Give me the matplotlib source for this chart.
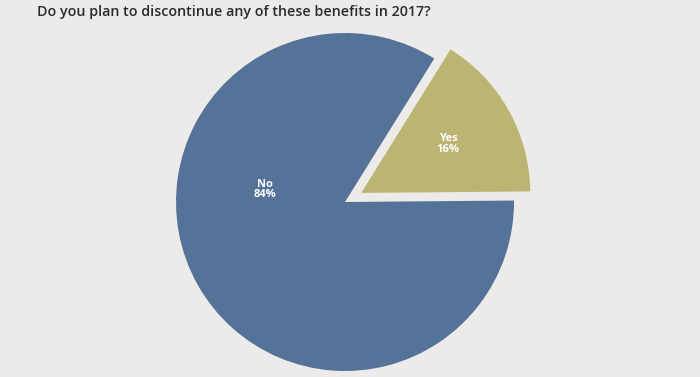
import matplotlib
matplotlib.use('Agg')
import matplotlib.pyplot as plt
import numpy as np

labels = ['Yes', 'No']
values = [16, 84]
colors = ['#bcb473', '#557398']
explode = [0.11, 0.0]

bg = '#edebe9'
fig = plt.figure(figsize=(7.0, 3.77), dpi=100, facecolor=bg)
ax = fig.add_axes([0, 0, 1, 1])
ax.set_facecolor(bg)

# pie radius 1 == 169 px, centre at (345, 175) px from bottom left
R = 169.0
wedges, _ = ax.pie(values, colors=colors, explode=explode, startangle=0.5,
                   counterclock=True, radius=1.0,
                   wedgeprops=dict(linewidth=0))
ax.set_xlim(-345 / R, 355 / R)
ax.set_ylim(-175 / R, 202 / R)
ax.set_aspect('equal')
ax.axis('off')

# slice labels
total = sum(values)
ang0 = 0.5
mid_yes = np.deg2rad(ang0 + 360 * values[0] / total / 2)
ax.text(0.70 * np.cos(mid_yes), 0.70 * np.sin(mid_yes),
        '%s\n%d%%' % (labels[0], values[0]), color='white', ha='center',
        va='center', fontsize=8, fontweight='bold', family='Open Sans',
        linespacing=0.95)
a_no = np.deg2rad(171)
ax.text(0.48 * np.cos(a_no), 0.48 * np.sin(a_no),
        '%s\n%d%%' % (labels[1], values[1]), color='white', ha='center',
        va='center', fontsize=8, fontweight='bold', family='Open Sans',
        linespacing=0.95)

fig.text(37 / 700, 1 - 12 / 377, 'Do you plan to discontinue any of these benefits in 2017?',
         ha='left', va='center', fontsize=10.3, fontweight='semibold',
         family='Open Sans', color='#2a2a2a')

fig.savefig('out.png', dpi=100, facecolor=bg)
